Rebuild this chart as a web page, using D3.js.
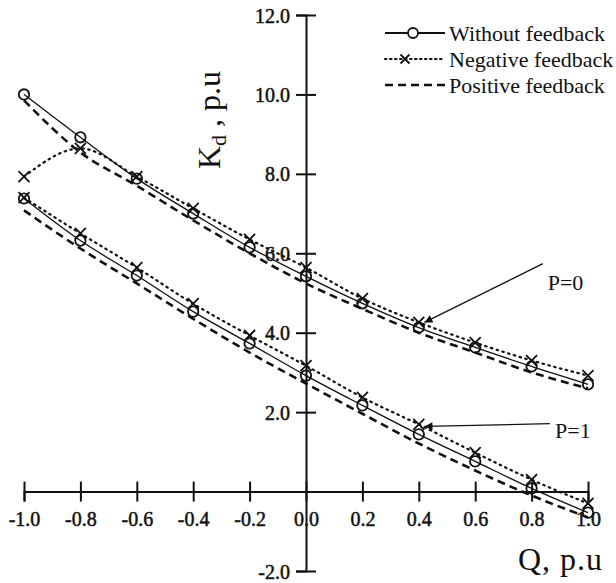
<!DOCTYPE html>
<html lang="en">
<head>
    <meta charset="UTF-8">
    <title>Kd vs Q</title>
    <script src="https://cdn.jsdelivr.net/npm/d3@7"></script>
    <style>
        body { margin: 0; background: #fff; }
    </style>
</head>
<body>
<script>
    const [width, height] = [616, 583]
    const serif = "'Liberation Serif', 'Times New Roman', serif"

    // Q values (p.u)
    const qValues = [-1.0, -0.8, -0.6, -0.4, -0.2, 0.0, 0.2, 0.4, 0.6, 0.8, 1.0]
    // P = 0
    const p0Without = [10.0, 8.92, 7.88, 7.0, 6.15, 5.42, 4.74, 4.13, 3.63, 3.15, 2.70]
    const p0Negative = [7.93, 8.64, 7.93, 7.13, 6.35, 5.64, 4.86, 4.26, 3.75, 3.30, 2.92]
    const p0Positive = [9.85, 8.54, 7.70, 6.83, 6.0, 5.24, 4.60, 4.0, 3.50, 3.0, 2.60]
    // P = 1
    const p1Without = [7.38, 6.32, 5.44, 4.53, 3.73, 2.92, 2.17, 1.44, 0.76, 0.08, -0.53]
    const p1Negative = [7.40, 6.50, 5.64, 4.73, 3.93, 3.17, 2.37, 1.69, 0.98, 0.30, -0.30]
    const p1Positive = [7.08, 6.12, 5.24, 4.35, 3.50, 2.72, 1.96, 1.21, 0.53, -0.10, -0.65]

    const xTicks = [-1.0, -0.8, -0.6, -0.4, -0.2, 0.0, 0.2, 0.4, 0.6, 0.8, 1.0]
    const yTicks = [-2, 2, 4, 6, 8, 10, 12]
    const legendNames = ['Without feedback', 'Negative feedback', 'Positive feedback']

    const x = d3.scaleLinear().domain([-1, 1]).range([24, 588])
    const y = d3.scaleLinear().domain([-2, 12]).range([571, 15])

    const svg = d3.select('body').append('svg')
        .attr('width', width)
        .attr('height', height)
        .style('font-family', serif)

    const styles = {
        without: { dash: null, width: 1.3 },
        negative: { dash: '1.5,4.5', width: 2.2 },
        positive: { dash: '8,5', width: 2.6 }
    }

    const line = d3.line()
        .x(d => x(d[0]))
        .y(d => y(d[1]))
        .curve(d3.curveMonotoneX)

    const series = [
        { kind: 'positive', values: p0Positive },
        { kind: 'positive', values: p1Positive },
        { kind: 'negative', values: p0Negative },
        { kind: 'negative', values: p1Negative },
        { kind: 'without', values: p0Without },
        { kind: 'without', values: p1Without }
    ]

    // axes
    const yAxis = svg.append('g')
        .attr('transform', `translate(${x(0)},0)`)
        .call(d3.axisLeft(y).tickValues(yTicks).tickSizeOuter(0).tickSize(10).tickPadding(6)
            .tickFormat(d => d.toFixed(1)))
    yAxis.selectAll('.tick line').attr('x1', 10)
    yAxis.selectAll('.tick text').attr('dy', '0.35em')

    const xAxis = svg.append('g')
        .attr('transform', `translate(0,${y(0)})`)
        .call(d3.axisBottom(x).tickValues(xTicks).tickSizeOuter(0).tickSize(10).tickPadding(10)
            .tickFormat(d => d.toFixed(1)))
    xAxis.selectAll('.tick line').attr('y1', -10)

    svg.selectAll('.domain, .tick line').attr('stroke', '#111').attr('stroke-width', 2)
    svg.selectAll('.tick text')
        .style('font-size', '20px')
        .attr('fill', '#111')
        .attr('stroke', '#111')
        .attr('stroke-width', 0.5)

    // curves
    svg.append('g').selectAll('path.curve')
        .data(series)
        .enter()
        .append('path')
        .attr('class', 'curve')
        .attr('fill', 'none')
        .attr('stroke', '#111')
        .attr('stroke-width', d => styles[d.kind].width)
        .attr('stroke-dasharray', d => styles[d.kind].dash)
        .attr('stroke-linecap', d => d.kind === 'negative' ? 'round' : 'butt')
        .attr('d', d => line(qValues.map((q, i) => [q, d.values[i]])))

    const crossPath = s => `M${-s},${-s}L${s},${s}M${-s},${s}L${s},${-s}`

    // markers
    const marks = svg.append('g')
    ;[p0Negative, p1Negative].forEach(vals => {
        marks.selectAll(null)
            .data(qValues.map((q, i) => [q, vals[i]]))
            .enter()
            .append('path')
            .attr('transform', d => `translate(${x(d[0])},${y(d[1])})`)
            .attr('d', crossPath(5.5))
            .attr('stroke', '#111')
            .attr('stroke-width', 1.8)
    })
    ;[p0Without, p1Without].forEach(vals => {
        marks.selectAll(null)
            .data(qValues.map((q, i) => [q, vals[i]]))
            .enter()
            .append('circle')
            .attr('cx', d => x(d[0]))
            .attr('cy', d => y(d[1]))
            .attr('r', 5.2)
            .attr('fill', 'none')
            .attr('stroke', '#111')
            .attr('stroke-width', 1.8)
    })

    // annotations
    svg.append('defs').append('marker')
        .attr('id', 'head')
        .attr('viewBox', '0 0 10 10')
        .attr('refX', 10).attr('refY', 5)
        .attr('markerWidth', 12).attr('markerHeight', 8)
        .attr('markerUnits', 'userSpaceOnUse')
        .attr('orient', 'auto')
        .append('path').attr('d', 'M0,0L10,5L0,10Z').attr('fill', '#111')

    const notes = [
        { label: 'P=0', from: [0.84, 5.74], to: [0.42, 4.26], at: [0.857, 5.08] },
        { label: 'P=1', from: [0.865, 1.71], to: [0.42, 1.64], at: [0.883, 1.36] }
    ]
    notes.forEach(n => {
        svg.append('line')
            .attr('x1', x(n.from[0])).attr('y1', y(n.from[1]))
            .attr('x2', x(n.to[0])).attr('y2', y(n.to[1]))
            .attr('stroke', '#111').attr('stroke-width', 1.3)
            .attr('marker-end', 'url(#head)')
        svg.append('text')
            .attr('x', x(n.at[0])).attr('y', y(n.at[1]))
            .style('font-size', '22px')
            .attr('fill', '#111')
            .text(n.label)
    })

    // axis titles
    svg.append('text')
        .attr('x', 518).attr('y', 570)
        .style('font-size', '32px')
        .style('letter-spacing', '1px')
        .attr('fill', '#111')
        .text('Q, p.u')

    const yTitle = svg.append('text')
        .attr('transform', 'translate(220,120) rotate(-90)')
        .attr('text-anchor', 'middle')
        .attr('fill', '#111')
        .style('font-size', '32px')
    yTitle.append('tspan').text('K')
    yTitle.append('tspan').attr('dy', 6).style('font-size', '22px').text('d')
    yTitle.append('tspan').attr('dy', -6).text(' , p.u')

    // legend
    const legend = svg.append('g').attr('transform', 'translate(385,33)')
    const kinds = ['without', 'negative', 'positive']
    kinds.forEach((k, i) => {
        const g = legend.append('g').attr('transform', `translate(0,${i * 26})`)
        g.append('line')
            .attr('x1', 0).attr('x2', 60).attr('y1', 0).attr('y2', 0)
            .attr('stroke', '#111')
            .attr('stroke-width', k === 'without' ? 2 : styles[k].width)
            .attr('stroke-dasharray', k === 'negative' ? '1.5,3.5' : styles[k].dash)
            .attr('stroke-linecap', k === 'negative' ? 'round' : 'butt')
        if (k === 'without') {
            g.append('circle').attr('cx', 28).attr('r', 5)
                .attr('fill', '#fff').attr('stroke', '#111').attr('stroke-width', 1.8)
        }
        if (k === 'negative') {
            g.append('path').attr('transform', 'translate(20,0)').attr('d', crossPath(4.5))
                .attr('stroke', '#111').attr('stroke-width', 1.8)
        }
        g.append('text')
            .attr('x', 64).attr('y', 0).attr('dy', '0.35em')
            .attr('fill', '#111')
            .style('font-size', '22px')
            .text(legendNames[i])
    })

    // d3 axes set their own sans-serif font, so force the serif face everywhere
    svg.selectAll('text').style('font-family', serif)
</script>
</body>
</html>
